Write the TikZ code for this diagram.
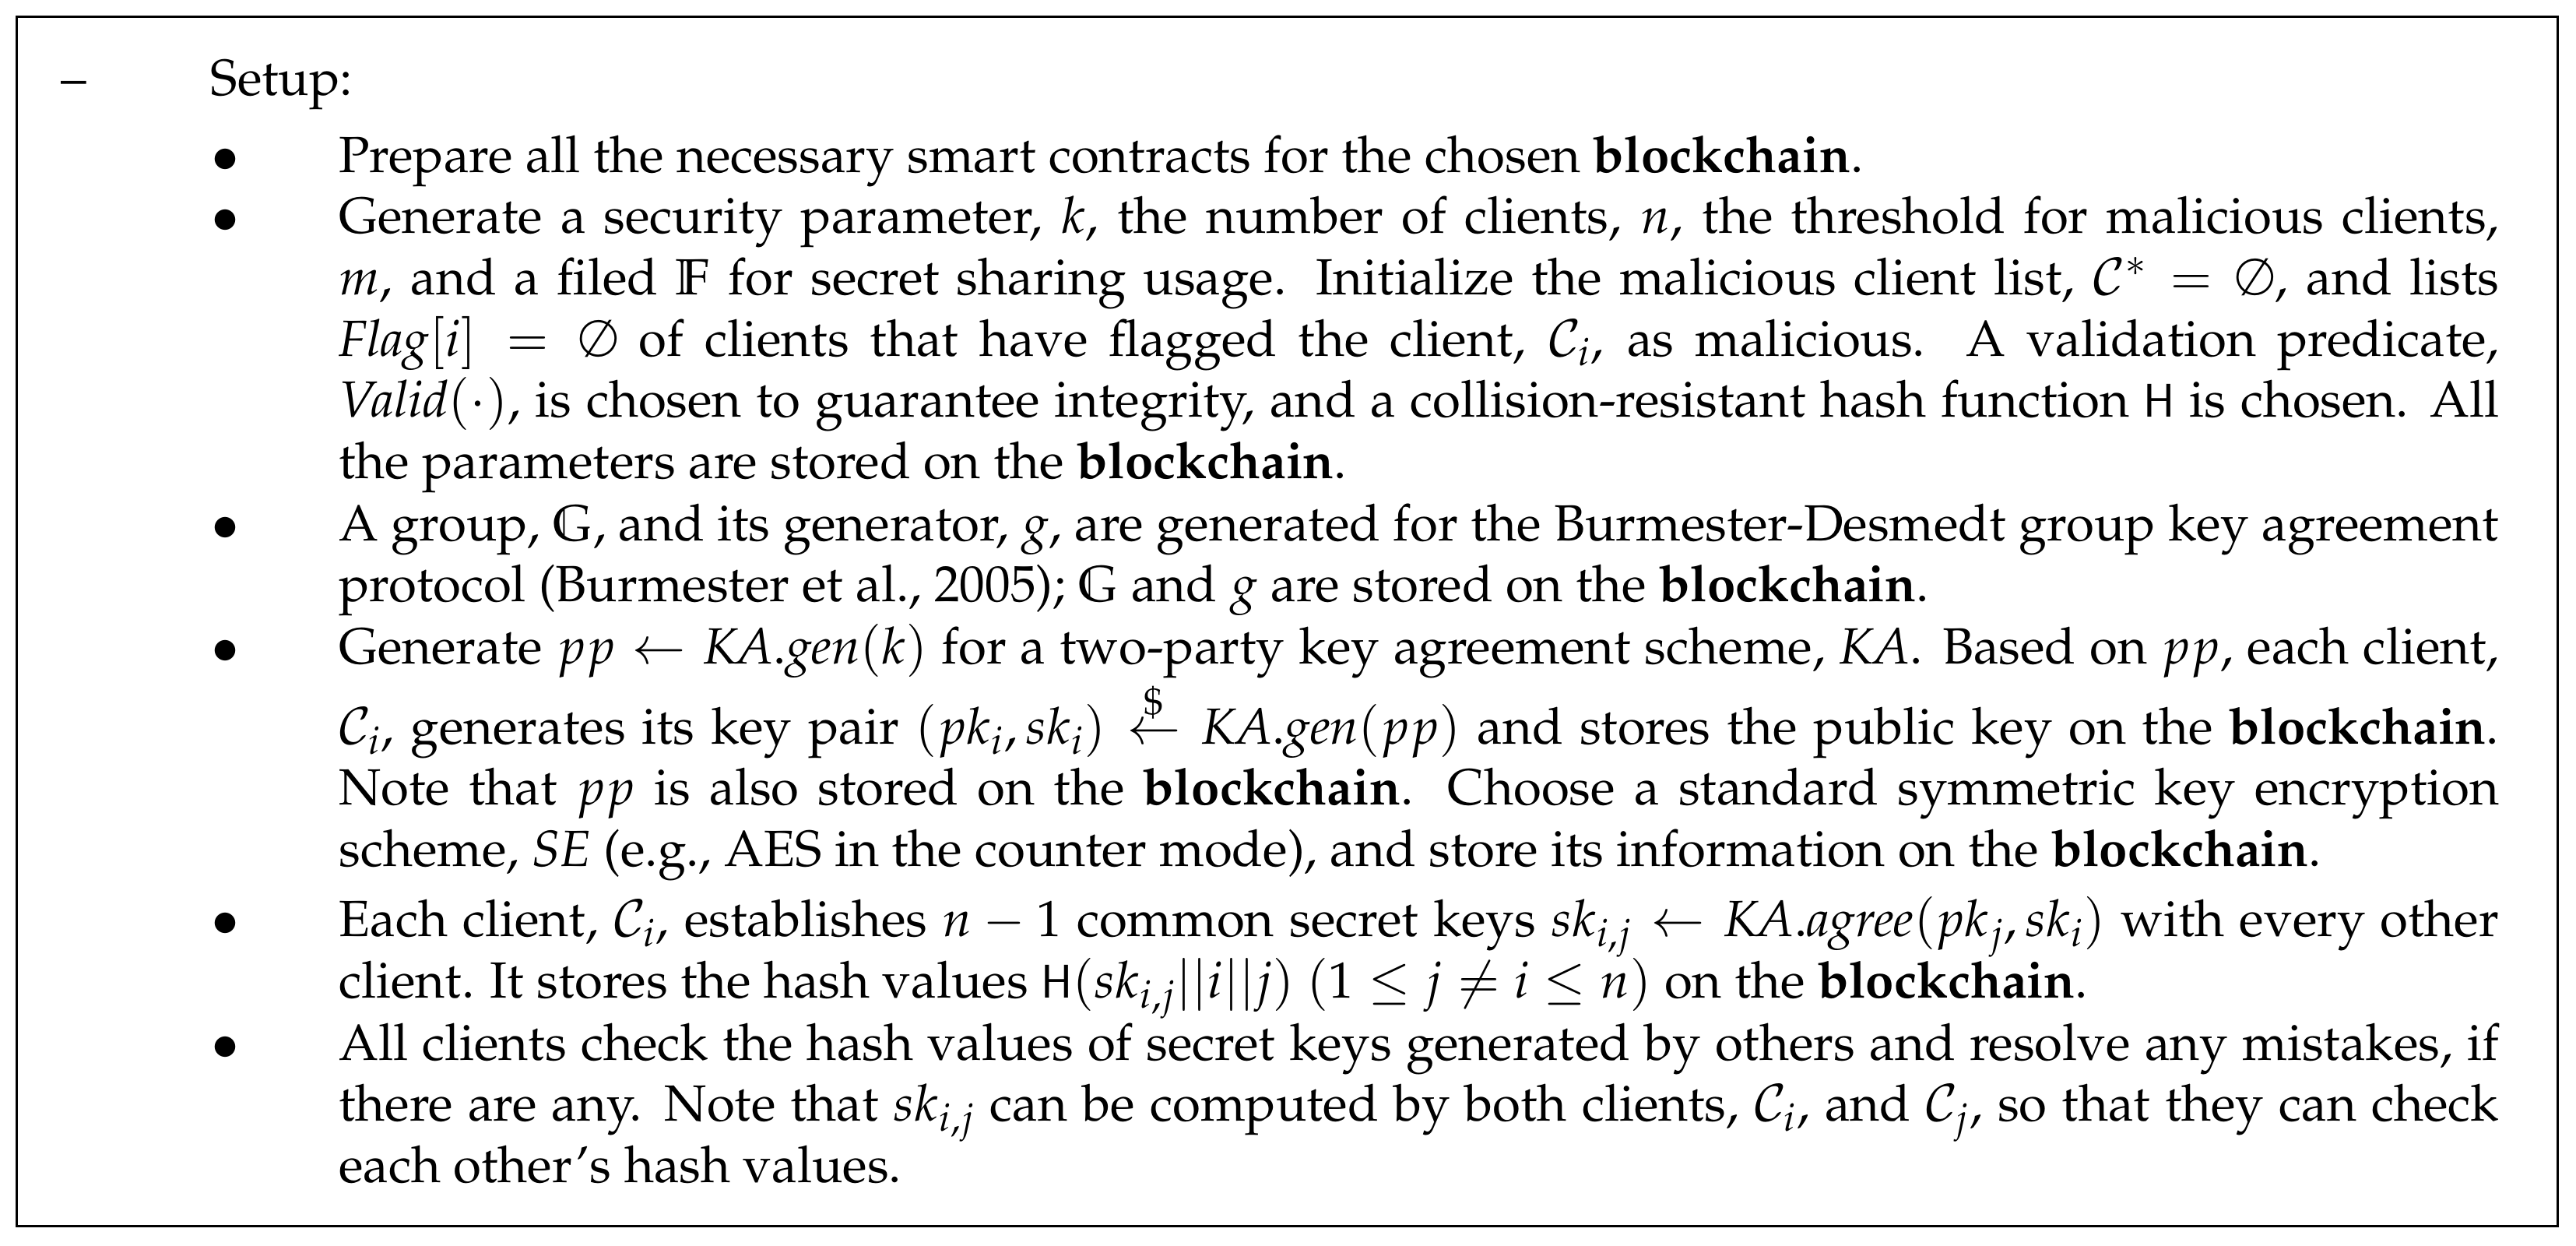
\documentclass[tikz,border=0pt]{standalone}
\usepackage[T1]{fontenc}
\usepackage{amssymb}
\usepackage{mathpazo}
\begin{document}
\begin{tikzpicture}[x=0.0211cm,y=-0.0211cm,
  item/.style={anchor=base west,inner sep=0pt,font=\fontsize{18.6}{22.4}\selectfont},
  bul/.style={anchor=base,inner sep=0pt,font=\fontsize{18.6}{22.4}\selectfont}]
\useasboundingbox (0,0) rectangle (1568.2,757.8);
\draw[line width=0.9pt] (10,10) rectangle (1557,746);
\newcommand{\itemtext}[1]{\parbox[t]{27.75cm}{\fontsize{18.6}{22.4}\selectfont\setlength{\parfillskip}{0pt plus 1fil}#1}}
\node[bul] (dash) at (45,58) {--};
\node[item] (setup) at (128,58) {Setup:};
\foreach \y [count=\i] in {105,142,329,404,570,645}
  \node[bul] (b\i) at (137,\y) {$\bullet$};
\node[item] (i1) at (206,105) {\itemtext{Prepare all the necessary smart contracts for the chosen \textbf{blockchain}.}};
\node[item] (i2) at (206,142) {\itemtext{Generate a security parameter, $k$, the number of clients, $n$, the threshold for malicious clients,\linebreak $m$, and a filed $\mathbb{F}$ for secret sharing usage. Initialize the malicious client list, $\mathcal{C}^* = \emptyset$, and lists\linebreak $\mathit{Flag}[i] = \emptyset$ of clients that have flagged the client, $\mathcal{C}_i$, as malicious. A validation predicate,\linebreak $\mathit{Valid}(\cdot)$, is chosen to guarantee integrity, and a collision-resistant hash function $\mathsf{H}$ is chosen. All\linebreak the parameters are stored on the \textbf{blockchain}.}};
\node[item] (i3) at (206,329) {\itemtext{A group, $\mathbb{G}$, and its generator, $g$, are generated for the Burmester-Desmedt group key agreement protocol (Burmester et al., 2005); $\mathbb{G}$ and $g$ are stored on the \textbf{blockchain}.}};
\node[item] (i4) at (206,404) {\itemtext{Generate $pp \leftarrow \mathit{KA.gen}(k)$ for a two-party key agreement scheme, $\mathit{KA}$. Based on $pp$, each client, $\mathcal{C}_i$, generates its key pair $(pk_i, sk_i) \stackrel{\$}{\leftarrow} \mathit{KA.gen}(pp)$ and stores the public key on the \textbf{blockchain}. Note that $pp$ is also stored on the \textbf{blockchain}. Choose a standard symmetric key encryption scheme, $\mathit{SE}$ (e.g., AES in the counter mode), and store its information on the \textbf{blockchain}.}};
\node[item] (i5) at (206,570) {\itemtext{Each client, $\mathcal{C}_i$, establishes $n-1$ common secret keys $sk_{i,j} \leftarrow \mathit{KA.agree}(pk_j, sk_i)$ with every other client. It stores the hash values $\mathsf{H}(sk_{i,j}||i||j)$ $(1 \leq j \neq i \leq n)$ on the \textbf{blockchain}.}};
\node[item] (i6) at (206,645) {\itemtext{All clients check the hash values of secret keys generated by others and resolve any mistakes, if there are any. Note that $sk_{i,j}$ can be computed by both clients, $\mathcal{C}_i$, and $\mathcal{C}_j$, so that they can check each other's hash values.}};
\end{tikzpicture}
\end{document}
